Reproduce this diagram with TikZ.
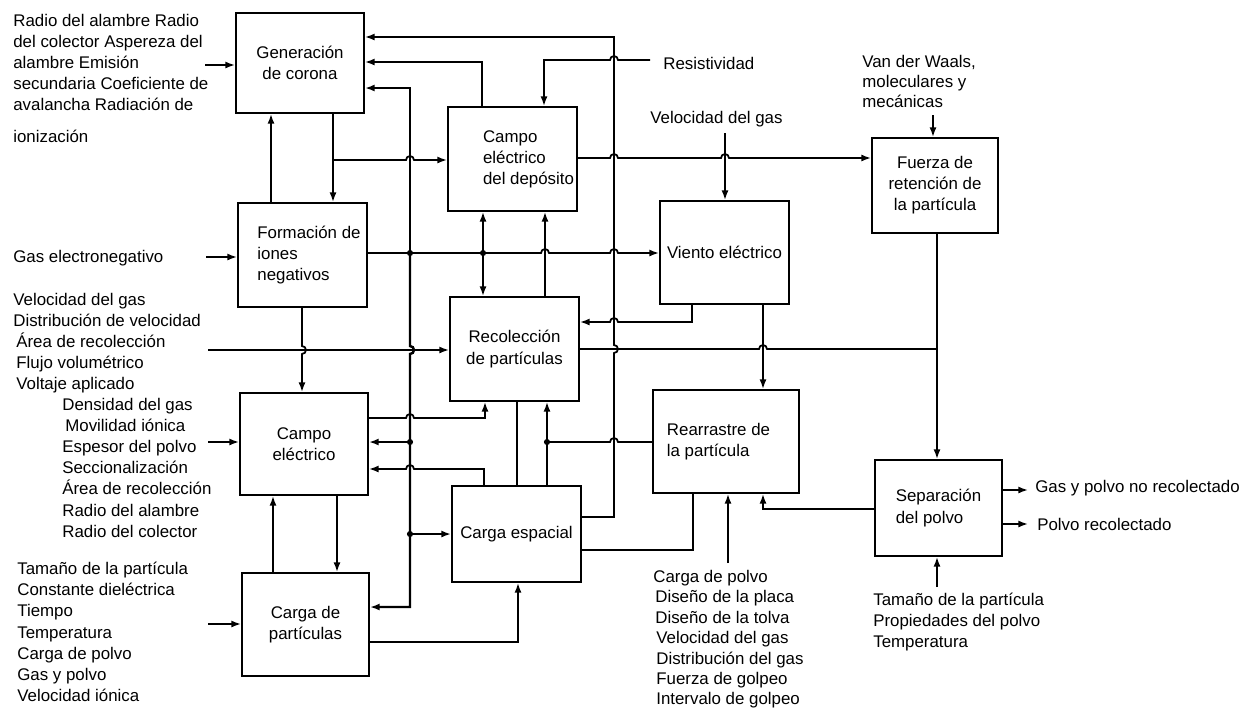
\documentclass[tikz,border=0pt]{standalone}
\usepackage{fontspec}
\setmainfont{Liberation Sans}
\usetikzlibrary{arrows.meta}
\begin{document}
\begin{tikzpicture}[x=0.02cm,y=-0.02cm,
  font=\fontsize{9.6}{12}\selectfont,
  box/.style={draw, line width=1.1pt, inner sep=0pt, align=center},
  ln/.style={line width=1pt},
  arr/.style={ln, -{Latex[length=5.5pt,width=4pt]}},
  bus/.style={line width=1.4pt},
  busarr/.style={bus, -{Latex[length=5.5pt,width=4pt]}},
  txt/.style={align=left, inner sep=0pt, anchor=north west},
  stxt/.style={inner sep=0pt, anchor=west},
  jdot/.style={circle, fill, inner sep=0pt, minimum size=3.5pt},
]
\useasboundingbox (0,0) rectangle (1250,711);

% boxes
\node[box, minimum width=2.56cm, minimum height=2.00cm] (gen) at (300,63) {Generación\\de corona};
\node[box, minimum width=2.58cm, minimum height=2.08cm, align=left] (form) at (302.5,255) {\hspace*{0.26cm}Formación de\\\hspace*{0.26cm}iones\\\hspace*{0.26cm}negativos};
\node[box, minimum width=2.56cm, minimum height=2.04cm] (campo) at (304,444) {Campo\\eléctrico};
\node[box, minimum width=2.54cm, minimum height=2.06cm] (cargap) at (305.5,624.5) {Carga de\\partículas};
\node[box, minimum width=2.58cm, minimum height=2.08cm, align=left] (dep) at (512.5,159) {\hspace*{0.64cm}Campo\\\hspace*{0.64cm}eléctrico\\\hspace*{0.64cm}del depósito};
\node[box, minimum width=2.58cm, minimum height=2.08cm] (recol) at (514.5,349) {Recolección\\de partículas};
\node[box, minimum width=2.58cm, minimum height=1.92cm] (esp) at (516.5,534) {Carga espacial};
\node[box, minimum width=2.58cm, minimum height=2.06cm] (viento) at (724.5,252.5) {Viento eléctrico};
\node[box, minimum width=2.92cm, minimum height=2.06cm, align=left] (rearr) at (726,441.5) {Rearrastre de\hspace*{0.3cm}\\la partícula};
\node[box, minimum width=2.52cm, minimum height=1.90cm] (fuerza) at (935,185.5) {Fuerza de\\retención de\\la partícula};
\node[box, minimum width=2.54cm, minimum height=1.92cm, align=left] (sep) at (938.5,508) {Separación\\del polvo};

% texts
\node[txt] (t1) at (13,14) {Radio del alambre Radio\\del colector Aspereza del\\alambre Emisión\\secundaria Coeficiente de\\avalancha Radiación de\\[6pt]ionización};
\node[stxt] (t2) at (13,258) {Gas electronegativo};
\node[txt] (t3) at (13,293) {Velocidad del gas\\Distribución de velocidad\\\hspace*{0.06cm}Área de recolección\\\hspace*{0.06cm}Flujo volumétrico\\\hspace*{0.06cm}Voltaje aplicado};
\node[txt] (t4) at (62,398) {Densidad del gas\\\hspace*{0.06cm}Movilidad iónica\\Espesor del polvo\\Seccionalización\\Área de recolección\\Radio del alambre\\Radio del colector};
\node[txt] (t5) at (17,562) {Tamaño de la partícula\\Constante dieléctrica\\Tiempo\\Temperatura\\Carga de polvo\\Gas y polvo\\Velocidad iónica};
\node[txt, font=\fontsize{9.6}{11.6}\selectfont] (t6) at (653,570) {Carga de polvo\\\hspace*{0.04cm}Diseño de la placa\\\hspace*{0.04cm}Diseño de la tolva\\\hspace*{0.06cm}Velocidad del gas\\\hspace*{0.06cm}Distribución del gas\\\hspace*{0.06cm}Fuerza de golpeo\\\hspace*{0.06cm}Intervalo de golpeo};
\node[txt] (t7) at (873,593) {Tamaño de la partícula\\Propiedades del polvo\\Temperatura};
\node[txt, font=\fontsize{9.6}{11.4}\selectfont] (t8) at (862,55) {Van der Waals,\\moleculares y\\mecánicas};
\node[stxt] (t9) at (663,63) {Resistividad};
\node[stxt] (t10) at (650,119) {Velocidad del gas};
\node[stxt] (t11) at (1035,488) {Gas y polvo no recolectado};
\node[stxt] (t12) at (1037,524) {Polvo recolectado};

% input arrows
\draw[arr] (205,65) -- (gen.west |- 0,65);
\draw[arr] (206,257) -- (form.west |- 0,257);
\draw[arr] (208,442) -- (campo.west |- 0,442);
\draw[arr] (208,624) -- (cargap.west |- 0,624);
\draw[arr] (208,350) -- (recol.west |- 0,350);

% corona / iones
\draw[arr] (gen.south -| 333,0) -- (form.north -| 333,0);
\draw[arr] (form.north -| 271,0) -- (gen.south -| 271,0);
\draw[arr] (333,160) -- (406,160) arc[start angle=180,end angle=0,radius=0.08cm] -- (dep.west |- 0,160);

% bus from iones
\draw[busarr] (410,253) -- (410,88) -- (gen.east |- 0,88);
\draw[busarr] (410,253) -- (410,346) arc[start angle=90,end angle=-90,radius=0.08cm] -- (410,607) -- (cargap.east |- 0,607);
\draw[busarr] (410,442) -- (campo.east |- 0,442);
\draw[busarr] (410,534) -- (esp.west |- 0,534);

% iones -> viento
\draw[arr] (form.east |- 0,253) -- (541,253) arc[start angle=180,end angle=0,radius=0.08cm] -- (610,253) arc[start angle=180,end angle=0,radius=0.08cm] -- (viento.west |- 0,253);
\draw[arr] (483,253) -- (dep.south -| 483,0);
\draw[arr] (483,253) -- (recol.north -| 483,0);
\draw[arr] (recol.north -| 545,0) -- (dep.south -| 545,0);

% feedback to corona
\draw[arr] (dep.north -| 482,0) -- (482,62) -- (gen.east |- 0,62);
\draw[arr] (esp.east |- 0,517) -- (614,517) -- (614,353) arc[start angle=-90,end angle=90,radius=0.08cm] -- (614,37) -- (gen.east |- 0,37);

% resistividad, deposito
\draw[arr] (650,60) -- (618,60) arc[start angle=0,end angle=180,radius=0.08cm] -- (544,60) -- (dep.north -| 544,0);
\draw[arr] (dep.east |- 0,158) -- (610,158) arc[start angle=180,end angle=0,radius=0.08cm] -- (721,158) arc[start angle=180,end angle=0,radius=0.08cm] -- (fuerza.west |- 0,158);
\draw[arr] (725,133) -- (viento.north -| 725,0);
\draw[arr] (933,115) -- (fuerza.north -| 933,0);
\draw[arr] (fuerza.south -| 937,0) -- (sep.north -| 937,0);

% viento
\draw[arr] (viento.south -| 692,0) -- (692,322) -- (618,322) arc[start angle=0,end angle=180,radius=0.08cm] -- (recol.east |- 0,322);
\draw[arr] (viento.south -| 763,0) -- (rearr.north -| 763,0);
\draw[ln] (recol.east |- 0,349) -- (759,349) arc[start angle=180,end angle=0,radius=0.08cm] -- (937,349);

% campo electrico region
\draw[arr] (form.south -| 302,0) -- (302,346) arc[start angle=90,end angle=-90,radius=0.08cm] -- (campo.north -| 302,0);
\draw[arr] (campo.east |- 0,418) -- (406,418) arc[start angle=180,end angle=0,radius=0.08cm] -- (485,418) -- (recol.south -| 485,0);
\draw[arr] (esp.north -| 484,0) -- (484,469) -- (414,469) arc[start angle=0,end angle=180,radius=0.08cm] -- (campo.east |- 0,469);
\draw[arr] (cargap.north -| 273,0) -- (campo.south -| 273,0);
\draw[arr] (campo.south -| 337,0) -- (cargap.north -| 337,0);
\draw[arr] (cargap.east |- 0,642) -- (518,642) -- (esp.south -| 518,0);
\draw[arr] (esp.north -| 547,0) -- (recol.south -| 547,0);
\draw[ln] (rearr.west |- 0,442) -- (618,442) arc[start angle=0,end angle=180,radius=0.08cm] -- (547,442);
\draw[ln] (recol.south -| 517,0) -- (esp.north -| 517,0);

% rearrastre
\draw[ln] (esp.east |- 0,550) -- (693,550) -- (rearr.south -| 693,0);
\draw[arr] (728,563) -- (rearr.south -| 728,0);
\draw[arr] (sep.west |- 0,509) -- (763,509) -- (rearr.south -| 763,0);

% separacion
\draw[arr] (sep.east |- 0,490) -- (1028,490);
\draw[arr] (sep.east |- 0,524) -- (1028,524);
\draw[arr] (937,587) -- (sep.south -| 937,0);

% junction dots
\foreach \p in {(410,253),(483,253),(410,442),(410,534),(547,442)}
  \node[jdot] at \p {};
\end{tikzpicture}
\end{document}
